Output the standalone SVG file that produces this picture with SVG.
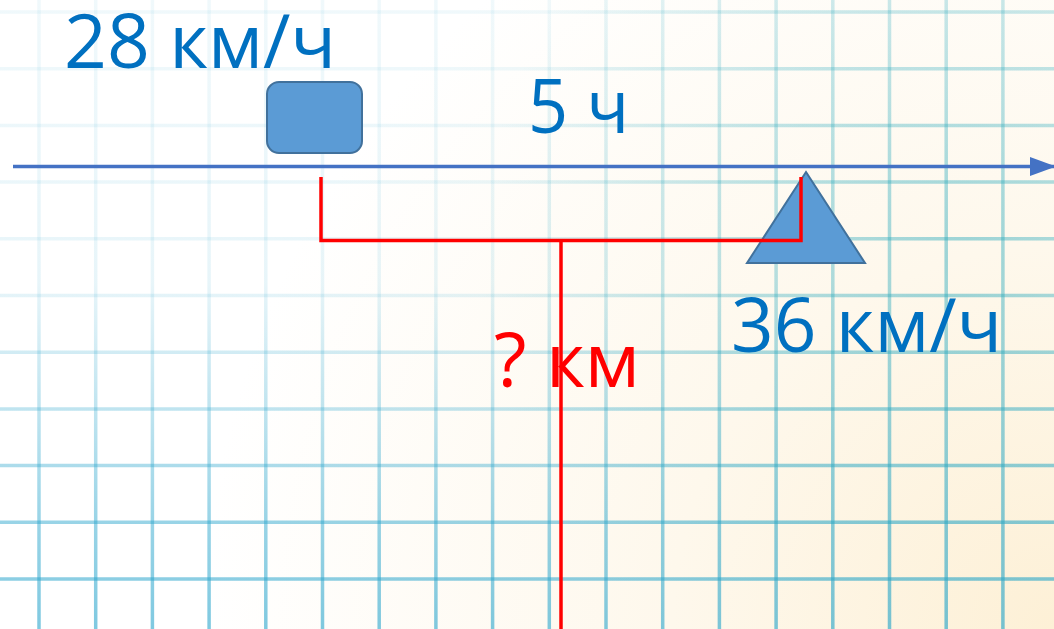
<svg xmlns="http://www.w3.org/2000/svg" width="1054" height="629" viewBox="0 0 1054 629">
  <defs>
    <radialGradient id="bgGrad" gradientUnits="userSpaceOnUse" cx="1054" cy="629" r="850">
      <stop offset="0" stop-color="#FDF0D6"/>
      <stop offset="0.45" stop-color="#FEF8EC"/>
      <stop offset="1" stop-color="#FFFFFF"/>
    </radialGradient>
    <linearGradient id="gridV" gradientUnits="userSpaceOnUse" x1="0" y1="0" x2="0" y2="629">
      <stop offset="0" stop-color="#2AA5CC" stop-opacity="0.07"/>
      <stop offset="0.45" stop-color="#2AA5CC" stop-opacity="0.11"/>
      <stop offset="0.65" stop-color="#2AA5CC" stop-opacity="0.3"/>
      <stop offset="0.83" stop-color="#2AA5CC" stop-opacity="0.48"/>
      <stop offset="1" stop-color="#2AA5CC" stop-opacity="0.6"/>
    </linearGradient>
    <radialGradient id="gridR" gradientUnits="userSpaceOnUse" cx="960" cy="260" r="480">
      <stop offset="0" stop-color="#2AAAB8" stop-opacity="0.4"/>
      <stop offset="0.5" stop-color="#2AAAB8" stop-opacity="0.22"/>
      <stop offset="1" stop-color="#2AAAB8" stop-opacity="0"/>
    </radialGradient>
    <marker id="arrowHead" markerUnits="userSpaceOnUse" markerWidth="28" markerHeight="20" refX="26" refY="10" orient="auto">
      <polygon points="0,0.5 26,10 0,19.5" fill="#4472C4"/>
    </marker>
    <style>
      .gv { fill: none; stroke: url(#gridV); stroke-width: 3.5; }
      .gr { fill: none; stroke: url(#gridR); stroke-width: 3.5; }
      .axis { fill: none; stroke: #4472C4; stroke-width: 3.5; }
      .bracket { fill: none; stroke: #FF0000; stroke-width: 3.5; }
      .shape { fill: #5B9BD5; stroke: #41719C; stroke-width: 2; }
      .lbl { font-family: "Open Sans", "Noto Sans", "DejaVu Sans", sans-serif; font-size: 75px; fill: #0070C0; }
      .red { fill: #FF0000; }
    </style>
  </defs>

  <g id="background">
    <rect x="0" y="0" width="1054" height="629" fill="url(#bgGrad)"/>
    <g id="grid">
      <path id="grid-v" d="M39,0V629 M95.7,0V629 M152.4,0V629 M209.1,0V629 M265.8,0V629 M322.5,0V629 M379.2,0V629 M435.9,0V629 M492.6,0V629 M549.3,0V629 M606,0V629 M662.7,0V629 M719.4,0V629 M776.1,0V629 M832.8,0V629 M889.5,0V629 M946.2,0V629 M1002.9,0V629"/>
      <path id="grid-h" d="M0,12H1054 M0,68.7H1054 M0,125.4H1054 M0,182.1H1054 M0,238.8H1054 M0,295.5H1054 M0,352.2H1054 M0,408.9H1054 M0,465.6H1054 M0,522.3H1054 M0,579H1054"/>
      <use href="#grid-v" class="gv"/>
      <use href="#grid-h" class="gv"/>
      <use href="#grid-v" class="gr"/>
      <use href="#grid-h" class="gr"/>
    </g>
  </g>

  <g id="car">
    <rect class="shape" x="267" y="82" width="95" height="71" rx="12" ry="12"/>
  </g>

  <g id="truck">
    <polygon class="shape" points="806,172 865,263 747,263"/>
  </g>

  <g id="connectors">
    <line id="axis" class="axis" x1="13" y1="166.5" x2="1056" y2="166.5" marker-end="url(#arrowHead)"/>
    <polyline id="distance-bracket" class="bracket" points="321,177 321,240.5 801,240.5 801,177"/>
    <line id="distance-stem" class="bracket" x1="561" y1="240.5" x2="561" y2="629"/>
  </g>

  <g id="labels">
    <text id="speed1" class="lbl" x="64" y="68" textLength="272" lengthAdjust="spacingAndGlyphs">28 км/ч</text>
    <text id="time" class="lbl" x="528" y="133" textLength="101" lengthAdjust="spacingAndGlyphs">5 ч</text>
    <text id="speed2" class="lbl" x="731" y="352" textLength="271" lengthAdjust="spacingAndGlyphs">36 км/ч</text>
    <text id="distance" class="lbl red" x="494" y="387" textLength="146" lengthAdjust="spacingAndGlyphs">? км</text>
  </g>
</svg>
